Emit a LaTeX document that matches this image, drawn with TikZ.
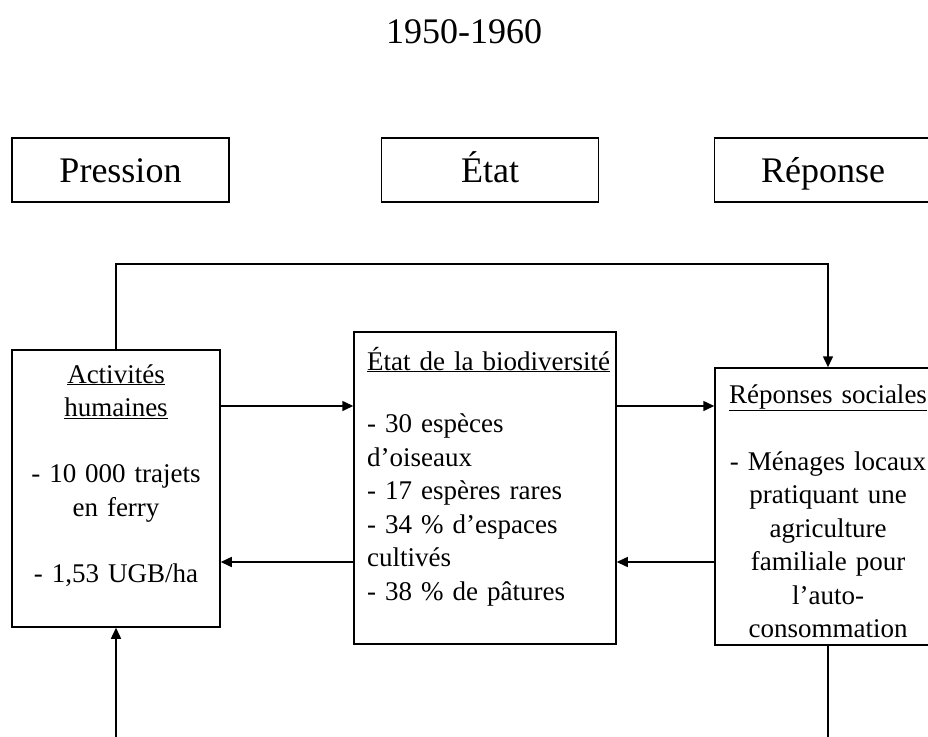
\documentclass[tikz,border=0pt]{standalone}
\usepackage{fontspec}
\setmainfont{Liberation Serif}
\usetikzlibrary{arrows.meta}
\tikzset{
hdbox/.style={draw, line width=1.5pt, minimum width=217pt, minimum height=64pt, text height=25pt, text depth=0pt, inner sep=0pt, font=\fontsize{36}{43}\selectfont},
mainbox/.style={draw, line width=1.5pt, inner sep=0pt},
boxtxt/.style={inner sep=0pt, font=\fontsize{27}{33.5}\selectfont},
link/.style={line width=1.5pt, -{Triangle[length=11pt,width=10pt]}},
}
\begin{document}
\begin{tikzpicture}[x=1pt,y=-1pt]
\useasboundingbox (0,0) rectangle (928,736);
\clip (0,0) rectangle (928,736);
\node[inner sep=0pt, anchor=base, font=\fontsize{36}{43}\selectfont] (periode) at (464,43){1950-1960};
\node[hdbox] (pression) at (120.5,170){Pression};
\node[hdbox] (etat) at (490,170){État};
\node[hdbox] (reponse) at (823,170){Réponse};
\node[mainbox, minimum width=208pt, minimum height=277pt] (activites) at (116,488.5){};
\node[mainbox, minimum width=262pt, minimum height=312pt] (etatbio) at (485,488){};
\node[mainbox, minimum width=226pt, minimum height=277pt] (reponses) at (828,506.5){};
\node[boxtxt, text width=208pt, align=center, anchor=base] (activitestxt) at (116,383){\underline{Activités}\\ \underline{humaines}\\[32.5pt] - 10 000 trajets\\ en ferry\\[32.5pt] - 1,53 UGB/ha};
\node[boxtxt, text width=245pt, align=left, anchor=base west] (etatbiotxt) at (367,370){\underline{État de la biodiversité}\\[29pt] - 30 espèces\\ d’oiseaux\\ - 17 espères rares\\ - 34 \% d’espaces\\ cultivés\\ - 38 \% de pâtures};
\node[boxtxt, text width=226pt, align=center, anchor=base] (reponsestxt) at (828,403){\underline{Réponses sociales}\\[33.5pt] - Ménages locaux\\ pratiquant une\\ agriculture\\ familiale pour\\ l’auto-\\ consommation};
\coordinate (haut) at (116,264);
\coordinate (basgauche) at (116,740);
\coordinate (basdroite) at (828,740);
\draw[link] (activites.north) -- (haut) -| (reponses.north);
\draw[link] (activites.east |- 0,406) -- (etatbio.west |- 0,406);
\draw[link] (etatbio.west |- 0,562) -- (activites.east |- 0,562);
\draw[link] (etatbio.east |- 0,406) -- (reponses.west |- 0,406);
\draw[link] (reponses.west |- 0,562) -- (etatbio.east |- 0,562);
\draw[link] (basgauche) -- (activites.south);
\draw[line width=1.5pt] (reponses.south) -- (basdroite);
\end{tikzpicture}
\end{document}
